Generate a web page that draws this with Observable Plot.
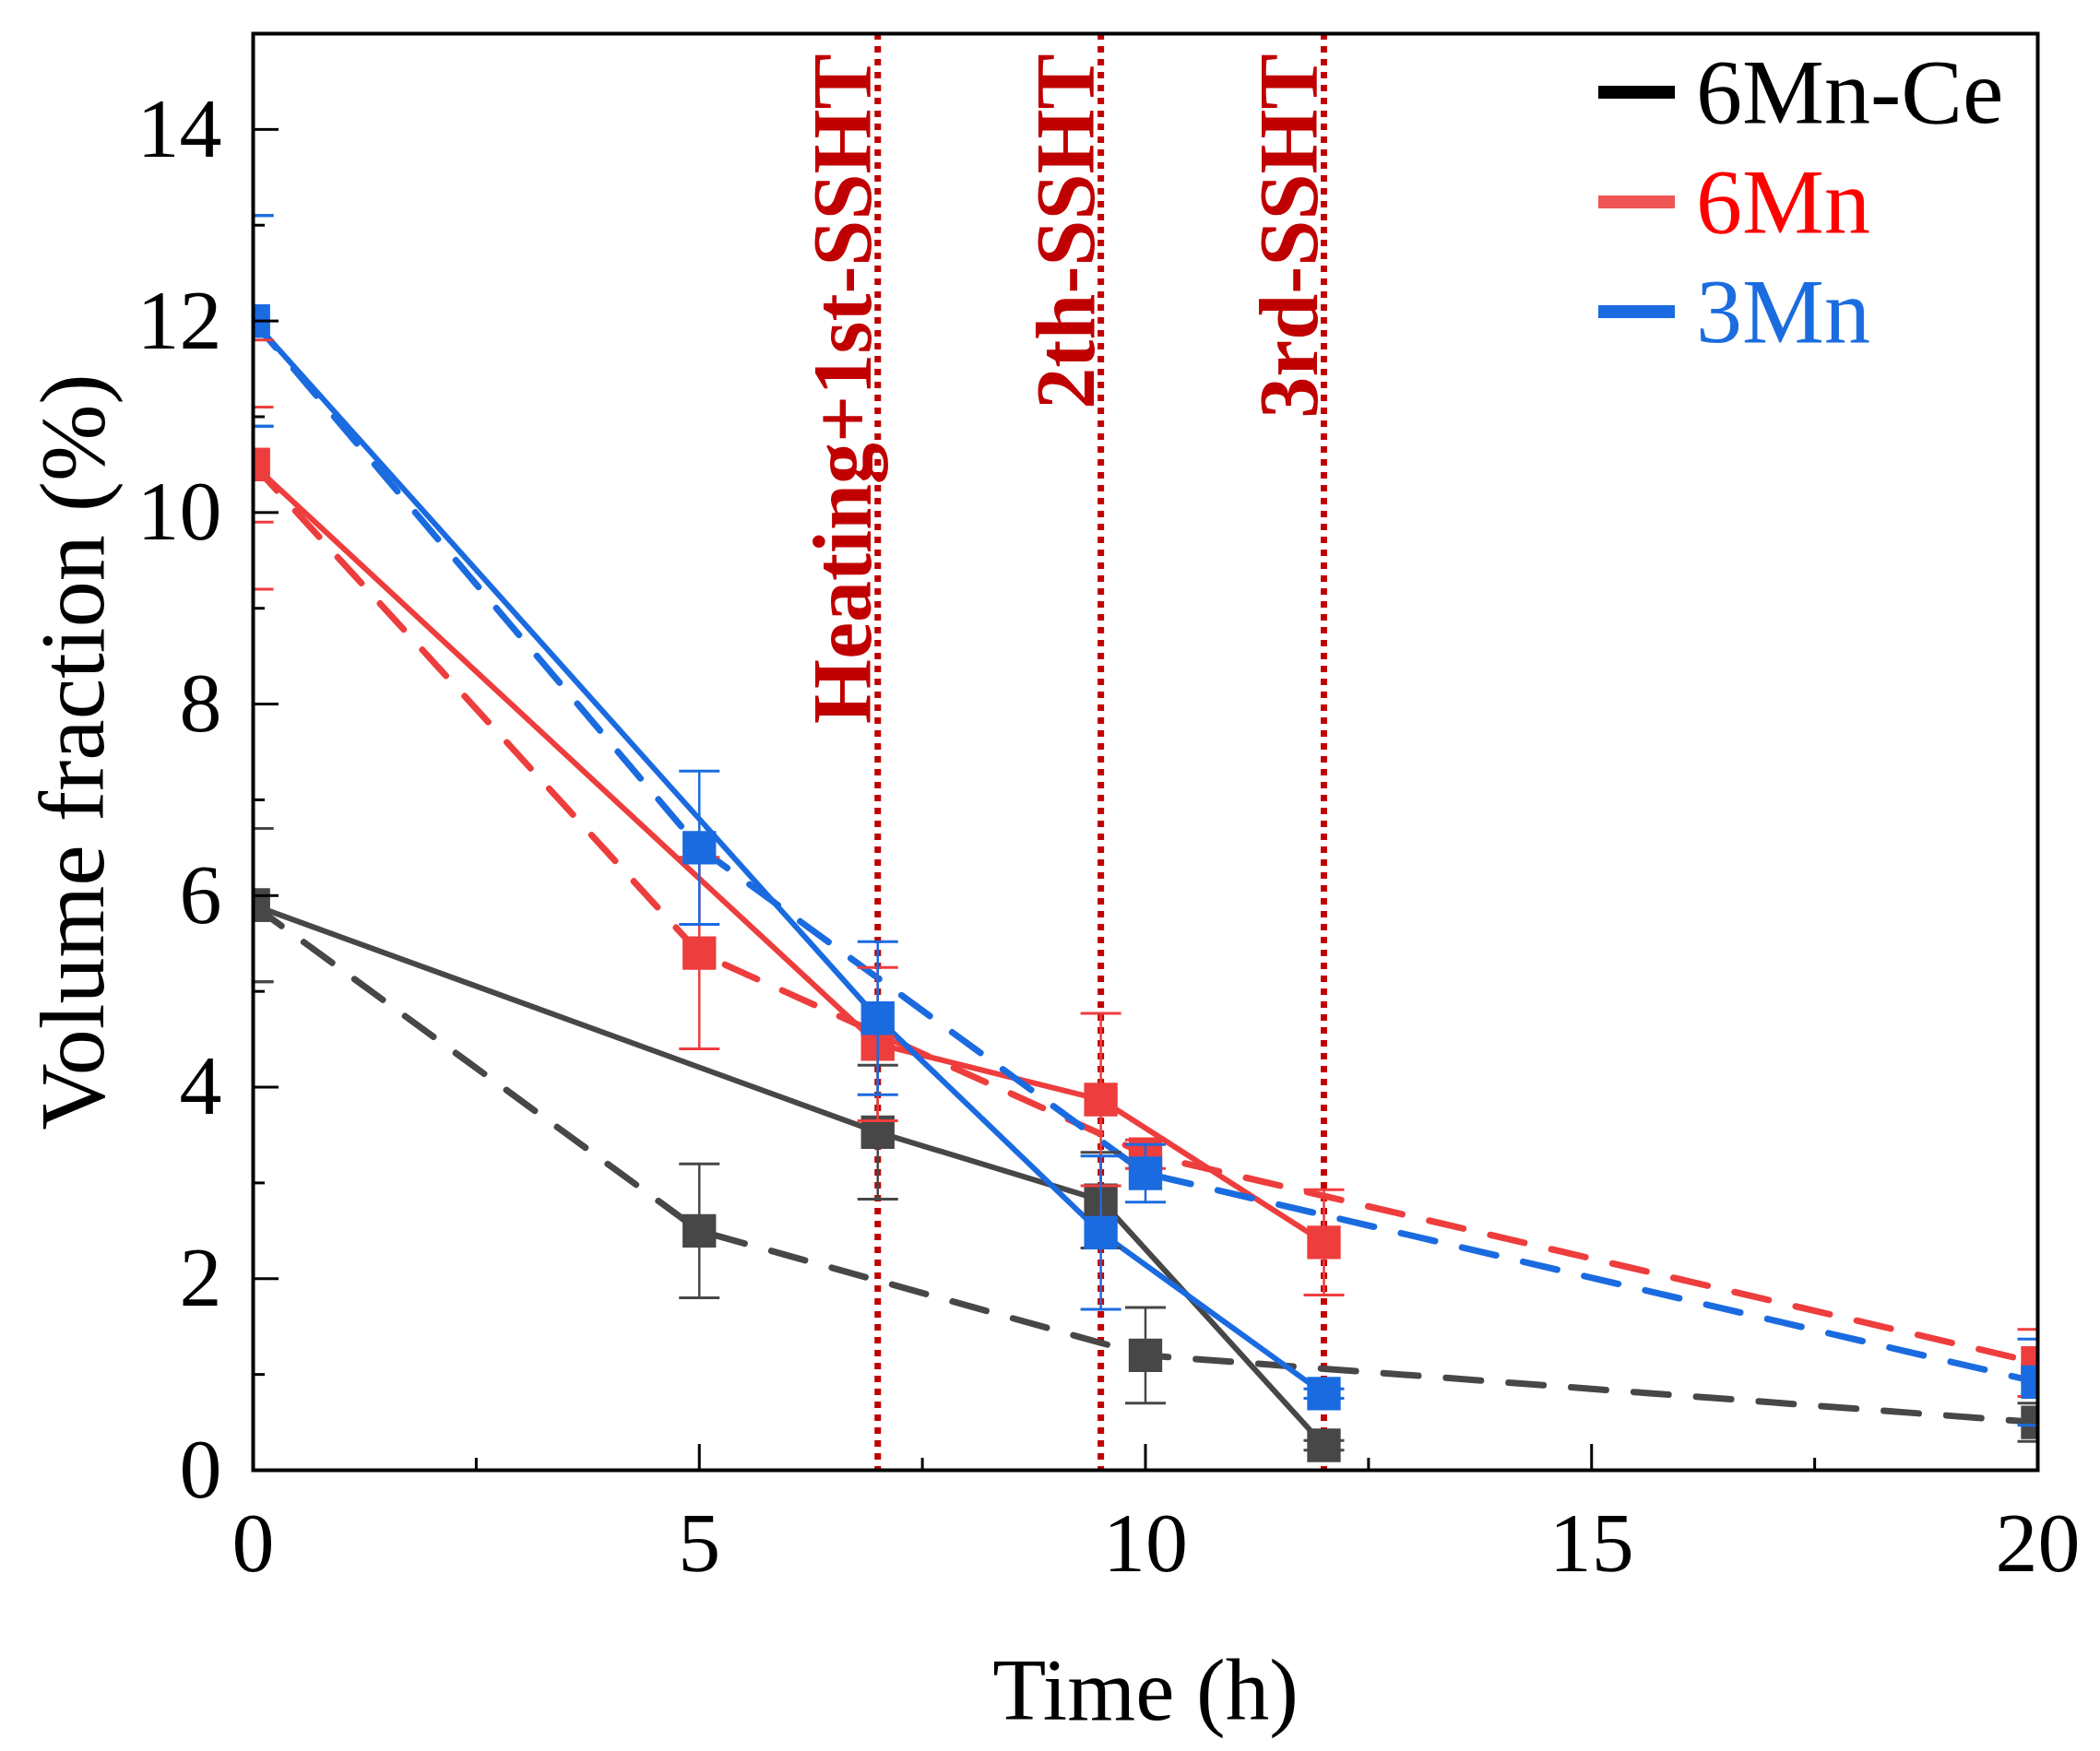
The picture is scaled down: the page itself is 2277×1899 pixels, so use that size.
<!DOCTYPE html>
<html>
<head>
<meta charset="utf-8">
<script src="https://cdn.jsdelivr.net/npm/d3@7"></script>
<script src="https://cdn.jsdelivr.net/npm/@observablehq/plot@0.6"></script>
<style>
  html, body { margin: 0; padding: 0; background: #fff; }
  #wrap { position: relative; width: 2277px; height: 1899px; }
  #legend { position: absolute; left: 0; top: 0; }
  .row { position: absolute; left: 1733px; height: 120px; display: flex; align-items: center;
         font-family: "Liberation Serif", "Times New Roman", serif; font-size: 100px; line-height: 120px; white-space: nowrap; }
  .sw { width: 83px; height: 14px; margin-right: 23px; }
</style>
</head>
<body>
<div id="wrap"><div id="chart"></div><div id="legend"></div></div>
<script>
// ---- data ----
const seriesNames = ["6Mn-Ce", "6Mn", "3Mn"];
const seriesColors = ["#474747", "#ee3d3d", "#1b6be0"];
const legendSwatch = ["#000000", "#ef5555", "#1b6be0"];
const legendText = ["#000000", "#ff0000", "#1b6ddf"];

// SSHT route (solid lines)
const solidTime = [0, 7, 9.5, 12];
const solidMnCe = [5.9, 3.53, 2.82, 0.26];
const solidMnCeErr = [0.8, 0.7, 0.5, 0.05];
const solid6Mn = [10.5, 4.45, 3.87, 2.38];
const solid6MnErr = [0.6, 0.8, 0.9, 0.55];
const solid3Mn = [12.0, 4.72, 2.48, 0.8];
const solid3MnErr = [1.1, 0.8, 0.8, 0.05];

// continuous route (dashed lines)
const dashTime = [0, 5, 10, 20];
const dashMnCe = [5.9, 2.5, 1.2, 0.5];
const dashMnCeErr = [0.8, 0.7, 0.5, 0.2];
const dash6Mn = [10.5, 5.4, 3.3, 1.12];
const dash6MnErr = [1.3, 1.0, 0.15, 0.35];
const dash3Mn = [12.0, 6.5, 3.1, 0.92];
const dash3MnErr = [1.1, 0.8, 0.3, 0.45];

// annotations
const sshtTimes = [7, 9.5, 12];
const sshtLabels = ["Heating+1st-SSHT", "2th-SSHT", "3rd-SSHT"];

// ticks
const xMajor = [0, 5, 10, 15, 20];
const xMinor = [2.5, 7.5, 12.5, 17.5];
const yMajor = [0, 2, 4, 6, 8, 10, 12, 14];
const yMinor = [1, 3, 5, 7, 9, 11, 13];

// ---- build tables ----
function table(times, vals, errs, name, route) {
  return times.map((t, i) => ({t, v: vals[i], e: errs[i], name, route}));
}
const solidSets = [
  table(solidTime, solidMnCe, solidMnCeErr, "6Mn-Ce", "solid"),
  table(solidTime, solid6Mn, solid6MnErr, "6Mn", "solid"),
  table(solidTime, solid3Mn, solid3MnErr, "3Mn", "solid")
];
const dashSets = [
  table(dashTime, dashMnCe, dashMnCeErr, "6Mn-Ce", "dash"),
  table(dashTime, dash6Mn, dash6MnErr, "6Mn", "dash"),
  table(dashTime, dash3Mn, dash3MnErr, "3Mn", "dash")
];

const capSymbol = {
  draw(ctx, size) {
    const r = Math.sqrt(size / Math.PI);
    ctx.moveTo(-r, 0); ctx.lineTo(r, 0);
  }
};

const marks = [];
marks.push(Plot.ruleX(sshtTimes, {x: d => d, stroke: "#c00000", strokeWidth: 7, strokeDasharray: "7,7"}));

for (let k = 0; k < 3; k++) {
  const c = seriesColors[k];
  marks.push(Plot.line(dashSets[k], {x: "t", y: "v", stroke: c, strokeWidth: 7, strokeDasharray: "38,30", clip: true}));
  marks.push(Plot.line(solidSets[k], {x: "t", y: "v", stroke: c, strokeWidth: 6, clip: true}));
}
for (let k = 0; k < 3; k++) {
  const c = seriesColors[k];
  for (const set of [dashSets[k], solidSets[k]]) {
    marks.push(Plot.ruleX(set, {x: "t", y1: d => d.v - d.e, y2: d => d.v + d.e, stroke: c, strokeWidth: 2.5, clip: true}));
    marks.push(Plot.dot(set, {x: "t", y: d => d.v - d.e, symbol: capSymbol, r: 22, stroke: c, strokeWidth: 3, fill: "none", clip: true}));
    marks.push(Plot.dot(set, {x: "t", y: d => d.v + d.e, symbol: capSymbol, r: 22, stroke: c, strokeWidth: 3, fill: "none", clip: true}));
  }
  for (const set of [dashSets[k], solidSets[k]]) {
    marks.push(Plot.dot(set, {x: "t", y: "v", symbol: "square", r: 20.5, fill: c, stroke: "none", clip: true}));
  }
}

// axes
marks.push(Plot.axisY({ticks: yMajor, tickSize: -28, tickPadding: 62, strokeWidth: 3, fontSize: 92, label: null, tickFormat: d => String(d)}));
marks.push(Plot.axisY({ticks: yMinor, tickSize: -13, strokeWidth: 3, tickFormat: () => "", label: null}));
marks.push(Plot.axisX({ticks: xMajor, tickSize: -28, tickPadding: 72, strokeWidth: 3, fontSize: 92, label: null, tickFormat: d => String(d)}));
marks.push(Plot.axisX({ticks: xMinor, tickSize: -13, strokeWidth: 3, tickFormat: () => "", label: null}));
marks.push(Plot.frame({stroke: "#000", strokeWidth: 4}));

// annotation text
marks.push(Plot.text(sshtTimes, {x: d => d, text: (d, i) => sshtLabels[i], frameAnchor: "top", rotate: -90,
  textAnchor: "end", lineAnchor: "bottom", dx: -8, dy: 22, fill: "#c00000", fontWeight: "bold", fontSize: 90}));

// axis titles
marks.push(Plot.text(["Volume fraction (%)"], {text: d => d, frameAnchor: "left", rotate: -90, dx: -163,
  lineAnchor: "bottom", textAnchor: "middle", fontSize: 100, fill: "#000"}));
marks.push(Plot.text(["Time (h)"], {text: d => d, frameAnchor: "bottom", dy: 270,
  lineAnchor: "bottom", textAnchor: "middle", fontSize: 95, fill: "#000"}));

const chart = Plot.plot({
  width: 2277,
  height: 1899,
  marginLeft: 274,
  marginRight: 68,
  marginTop: 36,
  marginBottom: 305,
  style: {fontFamily: "'Liberation Serif', 'Times New Roman', serif", color: "#000", background: "#fff"},
  x: {domain: [0, 20]},
  y: {domain: [0, 15]},
  marks
});
document.getElementById("chart").appendChild(chart);

// legend (inside the frame, top-right)
const legend = document.getElementById("legend");
seriesNames.forEach((name, i) => {
  const row = document.createElement("div");
  row.className = "row";
  row.style.top = (40 + i * 119) + "px";
  const sw = document.createElement("div");
  sw.className = "sw";
  sw.style.background = legendSwatch[i];
  const tx = document.createElement("span");
  tx.textContent = name;
  tx.style.color = legendText[i];
  row.appendChild(sw); row.appendChild(tx);
  legend.appendChild(row);
});
</script>
</body>
</html>
